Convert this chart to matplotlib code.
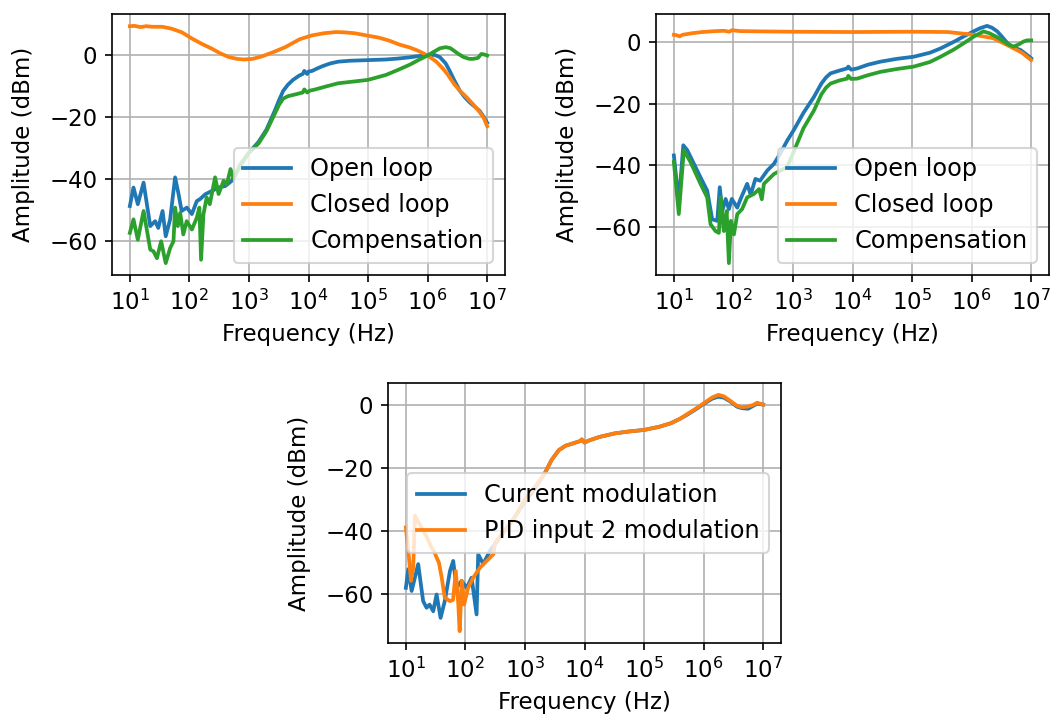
import numpy as np
import matplotlib
matplotlib.use("Agg")
import matplotlib.pyplot as plt
from matplotlib.ticker import LogLocator

# ---- panel 1 (top left) ----
tl_open_f = [10, 11.5, 13.6, 17, 22, 26.6, 30, 35.4, 40, 47.5, 57.5, 65.7, 74, 90.5, 110, 133, 152, 184,
             238, 309, 400, 516, 700, 1000, 1450, 1970, 2700, 3200, 3750, 4500, 5500, 7000, 8000, 8500, 9500,
             10000, 11500, 14000, 17000, 23000, 31600, 50000, 1e5, 2e5, 3.16e5, 5e5, 7e5, 1e6, 1.3e6, 1.6e6,
             2.0e6, 2.34e6, 2.8e6, 3.47e6, 4.2e6, 5.1e6, 6.2e6, 7.5e6, 8.7e6, 1e7]
tl_open_v = [-48.8, -42.8, -48.2, -41.2, -55.3, -53.7, -55.9, -50.4, -58.6, -53.1, -39.5, -44.9, -50.4, -49.3,
             -51.4, -47.2, -46.5, -45, -43.9, -42.8, -42.3, -40.6, -36, -31.5, -28, -24, -18, -14.5, -11.5,
             -9.5, -7.9, -6.5, -6, -5, -6, -5.2, -5, -4.2, -3.5, -2.6, -2, -1.7, -1.5, -1.3, -1, -0.6, -0.2,
             0, 0.2, -0.5, -2.5, -4.9, -8, -11.4, -13.5, -15.2, -16.6, -18, -19.8, -21.8]

tl_closed_f = [10, 12, 15, 19, 23.5, 35, 50, 75, 110, 160, 238, 330, 457, 630, 810, 1150, 1650, 2500, 4070,
               7160, 11400, 18000, 29000, 40000, 60000, 94000, 150000, 220000, 340000, 500000, 700000, 1e6,
               1.4e6, 1.82e6, 2.2e6, 2.8e6, 3.47e6, 4.5e6, 5.8e6, 7.6e6, 8.8e6, 1e7]
tl_closed_v = [9.5, 9.6, 9.2, 9.5, 9.3, 9.3, 8.7, 7.5, 5.5, 3.8, 2.2, 0.7, -0.5, -1.1, -1.3, -1.1, -0.3, 1.0,
               2.7, 5.3, 6.5, 7.2, 7.6, 7.5, 7.2, 6.5, 5.8, 4.9, 3.5, 2.6, 1.5, 0, -2, -4.3, -6.3, -9.3,
               -11.4, -13.5, -15.8, -18.5, -20.3, -22.9]

tl_comp_f = [10, 11.5, 13.6, 17, 22, 25, 28.5, 33.5, 40, 47.5, 54, 57.5, 64, 70, 79, 90, 110, 133, 147, 157,
             172, 195, 220, 270, 309, 375, 425, 490, 555, 700, 1000, 1450, 1970, 2700, 3200, 3750, 4500, 5500,
             8000, 8500, 9500, 10500, 13000, 20000, 31600, 60000, 1e5, 2e5, 3.16e5, 5e5, 7e5, 1e6, 1.3e6,
             1.6e6, 2.0e6, 2.4e6, 2.7e6, 3.3e6, 4.0e6, 5.0e6, 5.8e6, 7.0e6, 8.0e6, 9.0e6, 1e7]
tl_comp_v = [-57.5, -53.1, -59.7, -50.4, -62.9, -63.5, -65.7, -60.2, -67.3, -62.4, -60.2, -49.3, -55.3, -51,
             -58, -53.7, -56.4, -52.6, -49.3, -66.2, -51.5, -46, -48.2, -39.5, -44.9, -40.6, -41.8, -36.8, -40,
             -35.5, -31.5, -28.5, -24.5, -19, -16, -14, -13.2, -12.8, -12, -11, -12, -11.4, -11, -10, -9,
             -8.4, -7.9, -6.3, -4.7, -3, -1.5, 0, 1.3, 2.3, 2.7, 2.4, 1.7, 0.5, -0.5, -1.1, -1.1, -0.8, 0.5,
             0.3, 0]

# ---- panel 2 (top right) ----
tr_open_f = [10, 12.1, 14.4, 16.8, 21.7, 28, 36.3, 44, 53.5, 59, 65, 74, 84, 94, 116, 132, 170, 195, 234,
             280, 370, 480, 620, 800, 1030, 1500, 2240, 3000, 3600, 4270, 6000, 8100, 8500, 9500, 12000, 18000,
             29500, 55000, 107000, 200000, 302000, 500000, 742000, 1.1e6, 1.41e6, 1.82e6, 2.2e6, 2.7e6, 3.3e6,
             4.0e6, 5.0e6, 6.6e6, 8.0e6, 1e7]
tr_open_v = [-36.8, -52, -33.5, -35.1, -39.5, -43.9, -48.2, -57.5, -58, -47.1, -54.8, -50.9, -54.2, -50.9,
             -53.7, -50.9, -46, -49.5, -44.4, -45, -41.7, -39.5, -36, -32, -28.6, -23, -17.9, -13.5, -11.5,
             -10.2, -9.3, -8.6, -8, -9, -8.6, -7.4, -6.4, -5.5, -4.8, -3.5, -2.1, 0, 1.8, 3.5, 4.5, 5.2, 4.6,
             3.4, 1.5, -0.4, -1.8, -2.6, -3.8, -5.3]

tr_closed_f = [10, 11, 12.5, 14, 20, 30, 50, 70, 85, 95, 130, 300, 1000, 10000, 100000, 400000, 1.1e6,
               2.3e6, 3.5e6, 5.1e6, 7.0e6, 1e7]
tr_closed_v = [2.3, 2.2, 1.8, 2.3, 2.8, 3.2, 3.5, 3.6, 3.3, 3.8, 3.5, 3.4, 3.3, 3.2, 3.3, 3.2, 2.3, 1.2,
               -0.5, -2.1, -3.5, -5.9]

tr_comp_f = [10, 12.1, 14.7, 19, 28, 36.3, 41.3, 50, 57, 61, 69, 77, 84, 91, 102, 116, 140, 170, 220, 270,
             300, 325, 480, 800, 1170, 1500, 2240, 3000, 3600, 4270, 6000, 8100, 8500, 9500, 12000, 18000,
             29500, 55000, 107000, 200000, 302000, 500000, 742000, 1.1e6, 1.58e6, 2.0e6, 2.7e6, 3.5e6, 4.3e6,
             5.1e6, 6.2e6, 7.4e6, 8.5e6, 1e7]
tr_comp_v = [-38.9, -55.8, -35.1, -38.9, -46, -50.4, -59.1, -61.3, -61.9, -50.4, -61.3, -54.8, -71.7, -58,
             -62.4, -55.8, -54.2, -50.4, -49.3, -47.7, -51, -46, -42.8, -40.6, -33, -28, -22.3, -17, -14.8,
             -13.5, -12.5, -11.9, -11, -12, -11.9, -10.8, -9.7, -8.8, -8, -6.5, -4.8, -2.5, -0.4, 1.8, 3.4,
             2.8, 1.5, 0.1, -1, -1.5, -0.8, 0.1, 0.5, 0.5]

# ---- panel 3 (bottom) ----
bt_cur_f = [10, 11, 12.5, 16.1, 19.5, 22.3, 25, 28.8, 32.8, 38.3, 45, 55, 62.4, 71, 86, 105, 127, 154, 164,
            199, 258, 315, 450, 650, 1000, 1400, 2140, 2800, 3700, 4800, 6300, 8500, 9000, 10000, 12000, 18000,
            32000, 55000, 1e5, 1.8e5, 2.8e5, 4e5, 5.6e5, 7.5e5, 1e6, 1.4e6, 1.77e6, 2.2e6, 2.9e6, 3.6e6,
            4.3e6, 5.6e6, 6.8e6, 7.9e6, 1e7]
bt_cur_v = [-57.9, -52, -58.9, -50.4, -62.1, -64.2, -63.2, -65.3, -60, -67.4, -62.1, -52.6, -49.4, -57.9,
            -55.7, -57.9, -54.7, -66.3, -47.3, -50.4, -46.2, -44, -40, -36, -30.5, -27, -21.8, -17.5, -14.4,
            -13, -12.3, -11.5, -11, -12, -11.3, -10.2, -9.1, -8.5, -8, -7, -5.9, -4.5, -2.9, -1.4, 0.2, 1.9,
            2.5, 2.2, 0.8, -0.6, -1.1, -1.3, -0.4, 0.3, 0]

bt_pid_f = [10, 11, 12.2, 13.3, 14.2, 15.1, 19.5, 22, 27, 30, 32.8, 36, 40, 45, 55, 62, 69, 76, 80, 87, 95,
            111, 135, 176, 228, 295, 315, 450, 650, 1000, 1400, 2140, 2800, 3700, 4800, 6300, 8500, 9000,
            10000, 12000, 18000, 32000, 55000, 1e5, 1.8e5, 2.8e5, 4e5, 5.6e5, 7.5e5, 1e6, 1.4e6, 1.77e6,
            2.2e6, 2.9e6, 3.6e6, 4.3e6, 5.6e6, 6.8e6, 7.9e6, 1e7]
bt_pid_v = [-38.8, -46.2, -55.7, -51.5, -35.1, -36.1, -39.8, -41.5, -45.2, -46.5, -48.3, -50, -54.7, -61,
            -62.1, -61.7, -52.6, -63.2, -71.6, -55.7, -63.2, -57.9, -54.7, -51.5, -49.4, -47.3, -43.6, -40,
            -36, -30, -26.5, -21.8, -17.5, -14.4, -13, -12.3, -11.5, -11, -12, -11.3, -10.2, -9.1, -8.5, -8,
            -7, -5.9, -4.5, -2.7, -1.2, 0.4, 2.3, 3.1, 2.6, 1, -0.3, -0.8, -0.6, -0.1, 0.6, 0]

plt.rcParams["font.size"] = 11
plt.rcParams["legend.fontsize"] = 11.5
plt.rcParams["lines.linewidth"] = 1.8

fig = plt.figure(figsize=(1051 / 150, 714 / 150), dpi=150)
ax1 = fig.add_axes([112 / 1051, 439 / 714, 393 / 1051, 261 / 714])
ax2 = fig.add_axes([656 / 1051, 439 / 714, 393 / 1051, 261 / 714])
ax3 = fig.add_axes([388 / 1051, 71 / 714, 393 / 1051, 260 / 714])

ax1.plot(tl_open_f, tl_open_v, label="Open loop")
ax1.plot(tl_closed_f, tl_closed_v, label="Closed loop")
ax1.plot(tl_comp_f, tl_comp_v, label="Compensation")
ax1.legend(loc="lower right")

ax2.plot(tr_open_f, tr_open_v, label="Open loop")
ax2.plot(tr_closed_f, tr_closed_v, label="Closed loop")
ax2.plot(tr_comp_f, tr_comp_v, label="Compensation")
ax2.legend(loc="lower right")

ax3.plot(bt_cur_f, bt_cur_v, label="Current modulation")
ax3.plot(bt_pid_f, bt_pid_v, label="PID input 2 modulation")
ax3.legend(loc="center right")

for ax in (ax1, ax2, ax3):
    ax.set_xscale("log")
    ax.xaxis.set_major_locator(LogLocator(base=10, numticks=15))
    ax.grid(True)
    ax.set_xlabel("Frequency (Hz)")
    ax.set_ylabel("Amplitude (dBm)", labelpad=7)

fig.savefig("out.png", dpi=150)
